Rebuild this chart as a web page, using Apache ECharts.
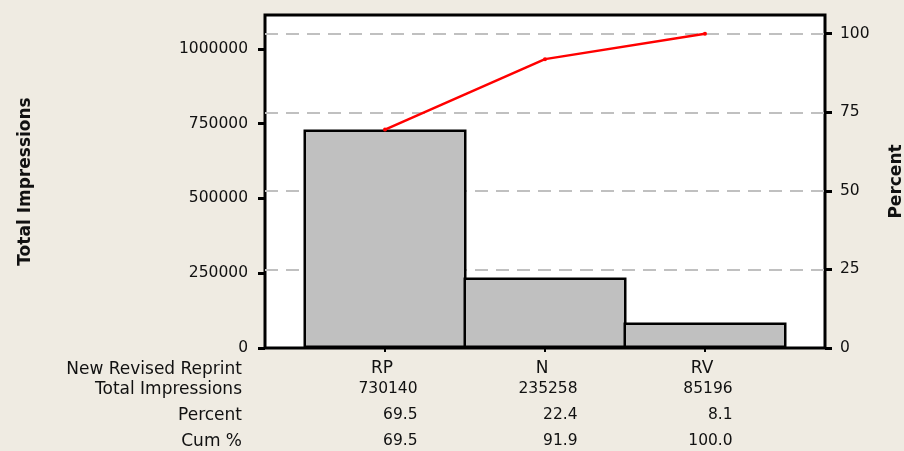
<!DOCTYPE html>
<html><head><meta charset="utf-8">
<script src="https://cdn.jsdelivr.net/npm/echarts@6/dist/echarts.min.js"></script>
<style>html,body{margin:0;padding:0;background:#EFEBE2}#c{width:904px;height:451px}</style>
</head><body><div id="c"></div>
<script>
const categories = ['RP', 'N', 'RV'];
const totals = [730140, 235258, 85196];
const percents = [69.5, 22.4, 8.1];
const cumPercents = [69.5, 91.9, 100.0];
const leftTicks = [0, 250000, 500000, 750000, 1000000];
const rightTicks = [0, 25, 50, 75, 100];
const gridPercents = [25, 50, 75, 100];
const rowLabels = ['New Revised Reprint', 'Total Impressions', 'Percent', 'Cum %'];

const grandTotal = totals.reduce((a, b) => a + b, 0);
const leftMax = 1113000;
const rightMax = leftMax / grandTotal * 100;
const FONT = 'DejaVu Sans';
const TXT = '#111';
const idx = categories.map((c, i) => i);

const chart = echarts.init(document.getElementById('c'), null, {renderer: 'canvas'});
const rowY = [370, 390, 416, 442];

chart.setOption({
  backgroundColor: '#EFEBE2',
  animation: false,
  textStyle: {fontFamily: FONT},
  grid: {left: 265, right: 79, top: 15, bottom: 103, outerBoundsMode: 'none', containLabel: false,
    show: true, backgroundColor: '#fff', borderColor: '#000', borderWidth: 3},
  xAxis: {
    type: 'value', min: -0.75, max: 2.75,
    axisLine: {show: false, onZero: false}, splitLine: {show: false},
    axisTick: {show: true, customValues: idx, length: 4, lineStyle: {color: '#000', width: 2}},
    axisLabel: {
      customValues: idx, margin: 14, padding: [0, 0, 0, 6],
      formatter: v => {
        const i = Math.round(v);
        return '{n|' + categories[i] + '}\n{v|' + totals[i] + '}\n{v|' + percents[i].toFixed(1) + '}\n{v|' + cumPercents[i].toFixed(1) + '}';
      },
      rich: {
        n: {fontFamily: FONT, fontSize: 17, color: TXT, align: 'center', lineHeight: 14, padding: [0, 12, 0, 0]},
        v: {fontFamily: FONT, fontSize: 15.5, color: TXT, align: 'right', lineHeight: 26}
      }
    }
  },
  yAxis: [{
    type: 'value', min: 0, max: leftMax, position: 'left',
    name: 'Total Impressions', nameLocation: 'middle', nameGap: 231, nameRotate: 90,
    nameTextStyle: {fontFamily: FONT, fontSize: 17, fontWeight: 'bold', color: TXT},
    axisLine: {show: false, onZero: false}, splitLine: {show: false},
    axisTick: {show: true, customValues: leftTicks, length: 7, lineStyle: {color: '#000', width: 3}},
    axisLabel: {customValues: leftTicks, margin: 17, fontFamily: FONT, fontSize: 15.5, color: TXT,
      formatter: v => String(v)}
  }, {
    type: 'value', min: 0, max: rightMax, position: 'right',
    name: 'Percent', nameLocation: 'middle', nameGap: 63, nameRotate: 90,
    nameTextStyle: {fontFamily: FONT, fontSize: 17, fontWeight: 'bold', color: TXT},
    axisLine: {show: false, onZero: false}, splitLine: {show: false},
    axisTick: {show: true, customValues: rightTicks, length: 7, lineStyle: {color: '#000', width: 3}},
    axisLabel: {customValues: rightTicks, margin: 15, fontFamily: FONT, fontSize: 15.5, color: TXT,
      formatter: v => String(v)}
  }],
  graphic: rowLabels.map((t, i) => ({
    type: 'text', x: 242, y: rowY[i],
    style: {text: t, fontFamily: FONT, fontSize: 17, fill: TXT, textAlign: 'right', textVerticalAlign: 'middle'}
  })),
  series: [{
    type: 'line', yAxisIndex: 1, data: [], silent: true,
    markLine: {
      silent: true, symbol: 'none', label: {show: false},
      lineStyle: {color: '#C0C0C0', type: [13, 8], width: 2.2},
      data: gridPercents.map(v => ({yAxis: v}))
    }
  }, {
    type: 'bar', z: 10, barWidth: 163, barMaxWidth: 200,
    data: totals.map((v, i) => [i, v]),
    itemStyle: {color: '#C0C0C0', borderColor: '#000', borderWidth: 2.5}
  }, {
    type: 'line', z: 11, yAxisIndex: 1,
    data: cumPercents.map((v, i) => [i, v]),
    symbol: 'circle', symbolSize: 4,
    lineStyle: {color: '#FF0000', width: 2.5},
    itemStyle: {color: '#FF0000'}
  }]
});
</script></body></html>
